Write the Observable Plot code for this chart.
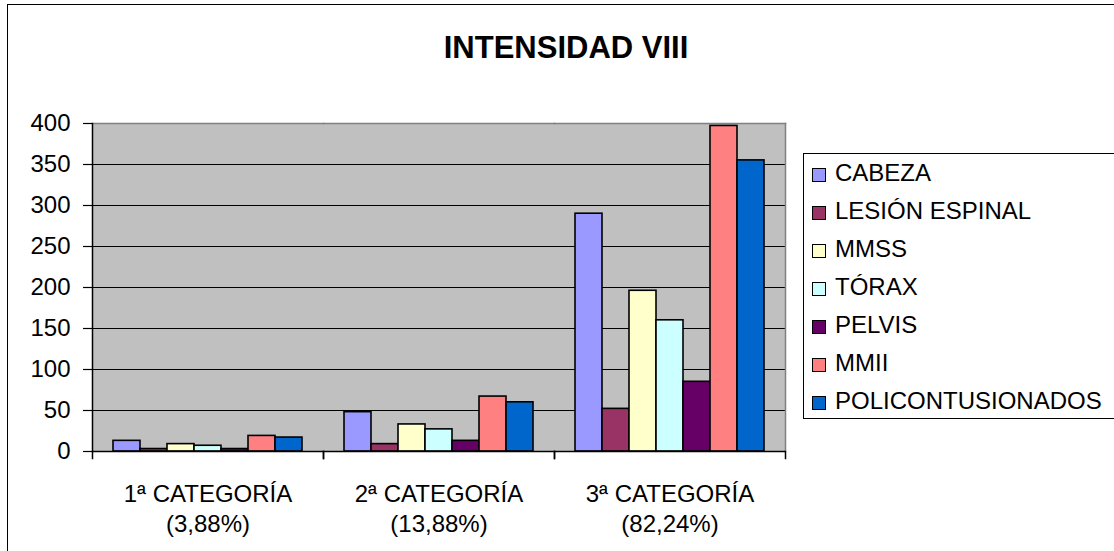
<!DOCTYPE html>
<html>
<head>
<meta charset="utf-8">
<script src="https://cdn.jsdelivr.net/npm/d3@7"></script>
<script src="https://cdn.jsdelivr.net/npm/@observablehq/plot@0.6"></script>
<style>
html, body { margin: 0; padding: 0; background: #fff; overflow: hidden; width: 1114px; height: 551px; font-family: "Liberation Sans", Arial, sans-serif; color: #000; }
#outer { position: absolute; left: 7px; top: 4px; width: 2000px; height: 2000px; border-left: 1.5px solid #000; border-top: 1.5px solid #000; box-sizing: border-box; }
#title { position: absolute; left: 0; top: 32px; width: 1132px; text-align: center; font-weight: bold; font-size: 31px; line-height: 1; }
#chart { position: absolute; left: 0; top: 0; }
#legend { position: absolute; left: 803px; top: 153px; width: 330px; height: 266px; border: 1px solid #000; box-sizing: border-box; background: #fff; }
.row { height: 38px; display: flex; align-items: center; font-size: 24px; padding-left: 8px; white-space: nowrap; }
.sw { width: 14px; height: 14px; border: 1px solid #000; box-sizing: border-box; margin-right: 9px; position: relative; top: 2px; flex: none; }
</style>
</head>
<body>
<div id="outer"></div>
<div id="title">INTENSIDAD VIII</div>
<div id="chart"></div>
<div id="legend"></div>
<script>
const categories = ["1ª CATEGORÍA", "2ª CATEGORÍA", "3ª CATEGORÍA"];
const percentages = ["(3,88%)", "(13,88%)", "(82,24%)"];
const parts = ["CABEZA", "LESIÓN ESPINAL", "MMSS", "TÓRAX", "PELVIS", "MMII", "POLICONTUSIONADOS"];
const cat1Values = [13, 3, 9, 7, 3, 19, 17];
const cat2Values = [48, 9, 33, 27, 13, 67, 60];
const cat3Values = [290, 52, 196, 160, 85, 397, 355];
const yTicks = [0, 50, 100, 150, 200, 250, 300, 350, 400];

const colors = ["#9999FF", "#993366", "#FFFFCC", "#CCFFFF", "#660066", "#FF8080", "#0066CC"];

const seriesByCat = [cat1Values, cat2Values, cat3Values];
const data = [];
categories.forEach((c, ci) => {
  parts.forEach((p, pi) => data.push({cat: c, part: p, value: seriesByCat[ci][pi]}));
});

const plotH = 551 - 123 - 100;

const chart = Plot.plot({
  width: 800,
  height: 551,
  marginLeft: 92,
  marginRight: 15,
  marginTop: 123,
  marginBottom: 100,
  style: {fontFamily: "Liberation Sans, Arial, sans-serif", fontSize: "24px", color: "#000", background: "transparent", overflow: "visible"},
  fx: {domain: categories, padding: 0, label: null, axis: null},
  x: {domain: parts, paddingInner: 0, paddingOuter: 0.77, axis: null},
  y: {domain: [0, 400], axis: null, label: null},
  color: {domain: parts, range: colors},
  marks: [
    Plot.frame({fill: "#C0C0C0", insetRight: -0.5}),
    Plot.gridY(yTicks.filter(d => d > 0 && d < 400), {stroke: "#000", strokeOpacity: 1, strokeWidth: 1}),
    Plot.frame({anchor: "top", stroke: "#808080", strokeWidth: 1.5}),
    Plot.frame({anchor: "right", stroke: "#808080", strokeWidth: 1.5, fx: [categories[categories.length - 1]]}),
    Plot.barY(data, {fx: "cat", x: "part", y: "value", fill: "part", stroke: "#000", strokeWidth: 1.6}),
    Plot.ruleY([0], {stroke: "#000", strokeWidth: 1.5}),
    Plot.frame({anchor: "left", stroke: "#000", strokeWidth: 1.5, fx: [categories[0]]}),
    Plot.frame({anchor: "left", insetTop: plotH, insetBottom: -7, stroke: "#000", strokeWidth: 1.5}),
    Plot.frame({anchor: "right", insetTop: plotH, insetBottom: -7, stroke: "#000", strokeWidth: 1.5}),
    Plot.axisY(yTicks, {tickSize: 9, tickPadding: 13, fontSize: 24, stroke: "#000", strokeWidth: 1.2, label: null}),
    Plot.axisFx({anchor: "bottom", tickSize: 0, tickPadding: 29, fontSize: 24, lineHeight: 1.25, label: null,
      tickFormat: d => d + "\n" + percentages[categories.indexOf(d)]})
  ]
});
document.getElementById("chart").appendChild(chart);

const legend = document.getElementById("legend");
parts.forEach((p, i) => {
  const row = document.createElement("div");
  row.className = "row";
  const sw = document.createElement("span");
  sw.className = "sw";
  sw.style.background = colors[i];
  row.appendChild(sw);
  row.appendChild(document.createTextNode(p));
  legend.appendChild(row);
});
</script>
</body>
</html>
